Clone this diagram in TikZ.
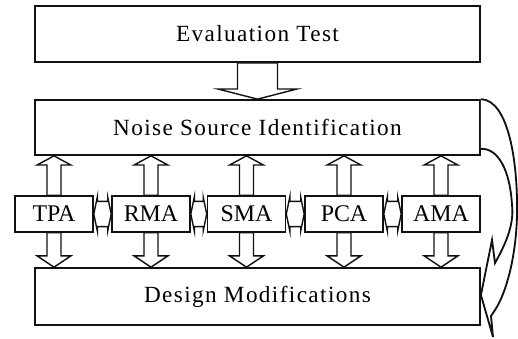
\documentclass[tikz,border=0pt]{standalone}
\usepackage{fontspec}
\setmainfont{Liberation Serif}
\newfontfamily\spacedfont{Liberation Serif}[LetterSpace=6]
\usepackage{tikz}
\usetikzlibrary{calc}
\definecolor{ink}{HTML}{111111}
\tikzset{
  bigbox/.style={draw=ink,fill=white,line width=1.2pt,minimum width=11.125cm,
                 inner sep=2pt,font=\fontsize{16.5}{19}\selectfont\spacedfont},
  toolbox/.style={draw=ink,fill=white,line width=1.1pt,minimum width=1.95cm,
                  minimum height=0.9cm,inner sep=1pt,font=\fontsize{17}{20}\selectfont},
  hollow/.style={draw=ink,fill=white,line width=1pt,line join=miter},
  loopline/.style={draw=ink,fill=white,line width=1.3pt,line join=miter}
}
% hollow block arrows, shaft from #1, tip at #2
\newcommand{\arrowdown}[5]{%
  \draw[hollow] let \p1=(#1), \p2=(#2) in
    (\x2-#3,\y1) -- (\x2-#3,\y2+#5) -- (\x2-#4,\y2+#5) -- (\x2,\y2)
    -- (\x2+#4,\y2+#5) -- (\x2+#3,\y2+#5) -- (\x2+#3,\y1) -- cycle;}
\newcommand{\arrowup}[5]{%
  \draw[hollow] let \p1=(#1), \p2=(#2) in
    (\x2-#3,\y1) -- (\x2-#3,\y2-#5) -- (\x2-#4,\y2-#5) -- (\x2,\y2)
    -- (\x2+#4,\y2-#5) -- (\x2+#3,\y2-#5) -- (\x2+#3,\y1) -- cycle;}
% short double arrow between two neighbouring tools
\newcommand{\linkarr}[2]{%
  \draw[hollow] let \p1=(#1), \p2=(#2) in
    (\x1,\y1) -- (\x1+2.5pt,\y1+12pt) -- (\x1+2.5pt,\y1+9pt) -- (\x2-2.5pt,\y1+9pt)
    -- (\x2-2.5pt,\y1+12pt) -- (\x2,\y1) -- (\x2-2.5pt,\y1-12pt) -- (\x2-2.5pt,\y1-9pt)
    -- (\x1+2.5pt,\y1-9pt) -- (\x1+2.5pt,\y1-12pt) -- cycle;}
\begin{document}
\begin{tikzpicture}[x=0.025cm,y=-0.025cm]
    \path[use as bounding box] (0,0) rectangle (518,338);

    \node[bigbox,minimum height=1.4cm] (eval) at (257.5,34) {Evaluation Test};
    \node[bigbox,minimum height=1.375cm] (nsi) at (257.5,127.5) {Noise Source Identification};
    \node[bigbox,minimum height=1.425cm] (design) at (257.5,296.5) {Design Modifications};

    \node[toolbox] (tpa) at (54,214) {TPA};
    \node[toolbox] (rma) at (151,214) {RMA};
    \node[toolbox] (sma) at (246.5,214) {SMA};
    \node[toolbox] (pca) at (344,214) {PCA};
    \node[toolbox] (ama) at (441,214) {AMA};

    \arrowdown{eval.south}{eval.south |- nsi.north}{14.2pt}{28pt}{7.2pt}

    \arrowup{tpa.north}{tpa.north |- nsi.south}{5pt}{12pt}{6.5pt}
    \arrowup{rma.north}{rma.north |- nsi.south}{5pt}{12pt}{6.5pt}
    \arrowup{sma.north}{sma.north |- nsi.south}{5pt}{12pt}{6.5pt}
    \arrowup{pca.north}{pca.north |- nsi.south}{5pt}{12pt}{6.5pt}
    \arrowup{ama.north}{ama.north |- nsi.south}{5pt}{12pt}{6.5pt}

    \arrowdown{tpa.south}{tpa.south |- design.north}{5pt}{12pt}{8pt}
    \arrowdown{rma.south}{rma.south |- design.north}{5pt}{12pt}{8pt}
    \arrowdown{sma.south}{sma.south |- design.north}{5pt}{12pt}{8pt}
    \arrowdown{pca.south}{pca.south |- design.north}{5pt}{12pt}{8pt}
    \arrowdown{ama.south}{ama.south |- design.north}{5pt}{12pt}{8pt}

    \linkarr{tpa.east}{rma.west}
    \linkarr{rma.east}{sma.west}
    \linkarr{sma.east}{pca.west}
    \linkarr{pca.east}{ama.west}

    % feedback loop back to the design box
    \coordinate (looptip) at (493,337);
    \coordinate (loopin) at ($(nsi.south east)+(0,-7)$);
    \draw[loopline] (nsi.north east) .. controls (508,100) and (518,160) .. (517,215)
      .. controls (516,260) and (505,295) .. (495,310) -- (491,316) -- (looptip)
      -- (design.east |- 0,295) -- (492,240) -- (495,263)
      .. controls (508,240) and (514,222) .. (512,205)
      .. controls (510,170) and (498,148) .. (loopin);
\end{tikzpicture}
\end{document}
